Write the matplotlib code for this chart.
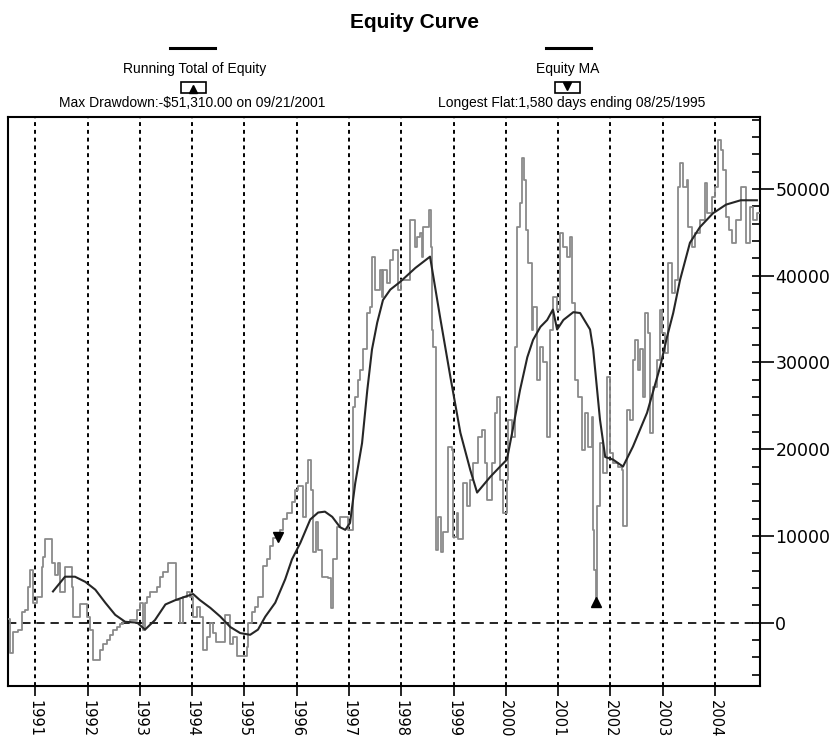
import matplotlib
matplotlib.use("Agg")
import matplotlib.pyplot as plt
from matplotlib.lines import Line2D
from matplotlib.patches import Rectangle
from matplotlib.ticker import MultipleLocator
import numpy as np

# running total of equity (decimal year, dollars)
equity_dates = [
    1990.50, 1990.52, 1990.58, 1990.67, 1990.75, 1990.81, 1990.87, 1990.90, 1990.96, 1991.04,
    1991.13, 1991.15, 1991.19, 1991.33, 1991.38, 1991.44, 1991.48, 1991.57, 1991.71, 1991.73,
    1991.86, 1991.99, 1992.05, 1992.11, 1992.24, 1992.30, 1992.38, 1992.43, 1992.49, 1992.57,
    1992.63, 1992.68, 1992.82, 1992.95, 1993.01, 1993.07, 1993.10, 1993.14, 1993.20, 1993.33,
    1993.39, 1993.45, 1993.54, 1993.64, 1993.70, 1993.77, 1993.83, 1993.91, 1993.96,
    1994.02, 1994.10, 1994.15, 1994.21, 1994.29, 1994.35, 1994.40, 1994.46, 1994.59, 1994.63,
    1994.69, 1994.73, 1994.79, 1994.86, 1994.98, 1995.05, 1995.07, 1995.15, 1995.21, 1995.26,
    1995.36, 1995.44, 1995.49, 1995.55, 1995.68, 1995.74, 1995.82, 1995.91, 1995.97, 1996.03,
    1996.11, 1996.12, 1996.18, 1996.22, 1996.28, 1996.32, 1996.37, 1996.41, 1996.49, 1996.60,
    1996.66, 1996.70, 1996.77, 1996.83, 1996.93, 1996.98, 1997.08, 1997.12, 1997.18, 1997.21,
    1997.27, 1997.35, 1997.41, 1997.44, 1997.50, 1997.60, 1997.63, 1997.65, 1997.73, 1997.79,
    1997.85, 1997.92, 1997.94, 1998.00, 1998.17, 1998.23, 1998.27, 1998.30, 1998.36, 1998.40,
    1998.42, 1998.50, 1998.53, 1998.57, 1998.59, 1998.61, 1998.67, 1998.71, 1998.76, 1998.80,
    1998.90, 1998.97, 1998.99, 1999.07, 1999.09, 1999.18, 1999.26, 1999.32, 1999.37, 1999.47,
    1999.55, 1999.60, 1999.64, 1999.74, 1999.80, 1999.83, 1999.89, 1999.95, 2000.02, 2000.04,
    2000.12, 2000.18, 2000.22, 2000.27, 2000.31, 2000.35, 2000.39, 2000.43, 2000.50, 2000.52,
    2000.60, 2000.66, 2000.71, 2000.79, 2000.85, 2000.90, 2000.98, 2001.04, 2001.10, 2001.17,
    2001.23, 2001.27, 2001.33, 2001.38, 2001.46, 2001.52, 2001.57, 2001.65, 2001.67, 2001.69,
    2001.72, 2001.75, 2001.80, 2001.86, 2001.94, 2001.99, 2002.05, 2002.15, 2002.22, 2002.24,
    2002.32, 2002.38, 2002.43, 2002.47, 2002.53, 2002.57, 2002.63, 2002.66, 2002.72, 2002.76,
    2002.82, 2002.89, 2002.95, 2002.99, 2003.05, 2003.10, 2003.18, 2003.24, 2003.29, 2003.33,
    2003.39, 2003.47, 2003.49, 2003.56, 2003.62, 2003.71, 2003.81, 2003.85, 2003.94, 2004.00,
    2004.05, 2004.11, 2004.15, 2004.21, 2004.26, 2004.32, 2004.40, 2004.45, 2004.49, 2004.55,
    2004.59, 2004.67, 2004.73, 2004.80, 2004.86,
]
equity_values = [
    400, -3500, -1100, -800, 1200, 1500, 4100, 6100, 2300, 3000,
    6400, 7600, 9700, 6900, 5500, 6900, 3500, 6400, 4100, 700,
    2100, 700, -800, -4300, -3100, -2500, -2000, -1400, -800, -500,
    -200, 100, 300, 1500, 2300, -800, 2300, 3000, 3500, 4100,
    5300, 5800, 6900, 6900, 2600, 0, 3000, 3500, 3000,
    700, 1800, 700, -3100, -1600, 0, -1200, -2200, -2200, 900,
    900, -2500, -1600, -3900, -3900, -2800, 0, 1200, 1800, 3000,
    6500, 7300, 8800, 9800, 10700, 11900, 12700, 13900, 15300, 15700,
    15700, 12200, 16100, 18800, 15300, 8100, 11600, 8400, 5300, 5200,
    1700, 7300, 11000, 12200, 12200, 10700, 24900, 26000, 28000, 29100,
    31500, 35700, 36400, 42200, 38400, 40700, 37600, 40700, 39200, 41800,
    43000, 43000, 38400, 39500, 46400, 46400, 43300, 44500, 44900, 42200,
    45600, 45600, 47600, 43300, 33800, 31800, 8400, 12200, 8100, 10400,
    20300, 19900, 9900, 12700, 9600, 16100, 13400, 16500, 18400, 21400,
    22200, 18400, 14200, 18400, 24200, 26000, 16500, 12700, 16500, 23400,
    21400, 31800, 45600, 48400, 53600, 51000, 45300, 41500, 33800, 36400,
    28000, 31800, 30000, 21400, 33800, 37600, 36100, 44900, 43300, 42200,
    44500, 36900, 28000, 26000, 19900, 24200, 20300, 23700, 10700, 6100,
    2300, 13400, 20700, 17300, 28300, 19600, 18400, 18000, 17600, 11100,
    24500, 23400, 30300, 32600, 29100, 31500, 26000, 35700, 33400, 21900,
    27200, 30300, 36100, 33400, 31100, 41500, 38000, 39500, 50200, 53000,
    50200, 51000, 45600, 43300, 44900, 46400, 50700, 47200, 49100, 50200,
    55600, 54500, 52200, 46800, 45300, 43800, 46400, 46400, 50200, 50200,
    43800, 47900, 46400, 47200, 47200,
]

# moving average of equity
ma_dates = [
    1991.34, 1991.57, 1991.76, 1991.96, 1992.15, 1992.34, 1992.53, 1992.72, 1992.95, 1993.10,
    1993.29, 1993.49, 1993.68, 1993.87, 1994.02, 1994.15, 1994.35, 1994.54, 1994.73, 1994.92,
    1995.11, 1995.26, 1995.40, 1995.59, 1995.78, 1995.91, 1996.07, 1996.26, 1996.41, 1996.54,
    1996.68, 1996.83, 1996.93, 1997.02, 1997.12, 1997.25, 1997.35, 1997.44, 1997.54, 1997.65,
    1997.79, 1997.98, 1998.27, 1998.55, 1998.74, 1998.94, 1999.13, 1999.32, 1999.45, 1999.70,
    1999.89, 2000.02, 2000.13, 2000.27, 2000.41, 2000.52, 2000.66, 2000.79, 2000.90, 2000.98,
    2001.10, 2001.29, 2001.42, 2001.61, 2001.67, 2001.80, 2001.90, 2002.05, 2002.24, 2002.43,
    2002.70, 2002.95, 2003.08, 2003.20, 2003.33, 2003.52, 2003.71, 2003.96, 2004.21, 2004.49,
    2004.80,
]
ma_values = [
    3600, 5300, 5300, 4700, 3800, 2300, 900, 100, 0, -800,
    300, 2100, 2600, 3000, 3300, 2600, 1700, 700, -500, -1200,
    -1400, -800, 700, 2300, 5000, 7300, 9200, 11900, 12700, 12800,
    12200, 11000, 10700, 11500, 16100, 20700, 26800, 31500, 34600, 37200,
    38400, 39300, 40900, 42200, 35300, 28300, 21900, 17600, 15000, 16800,
    18000, 18800, 22200, 26800, 30600, 32600, 34100, 34900, 36100, 33800,
    34900, 35800, 35700, 33800, 31500, 23400, 19100, 18800, 18000, 20300,
    24200, 29500, 32900, 35700, 39500, 43800, 45600, 47200, 48200, 48700,
    48700,
]

years = list(range(1991, 2005))
drawdown_date, drawdown_value = 2001.72, 2400
flat_date, flat_value = 1995.65, 9900

fig = plt.figure(figsize=(8.35, 7.42), dpi=100)
ax = fig.add_axes([0.0096, 0.0755, 0.9006, 0.7668])

ax.plot(equity_dates, equity_values, drawstyle="steps-post", color="#8a8a8a", lw=1.3, zorder=3)
ax.plot(ma_dates, ma_values, color="#262626", lw=1.5, zorder=4)
ax.plot([drawdown_date], [drawdown_value], marker="^", color="black", ms=7, zorder=5)
ax.plot([flat_date], [flat_value], marker="v", color="black", ms=7, zorder=5)

for yr in years:
    ax.axvline(yr, color="black", lw=1.4, ls=(0, (2, 2)), zorder=1)
ax.axhline(0, color="black", lw=1.2, ls=(0, (5, 3.5)), zorder=1)

ax.set_xlim(1990.48, 2004.86)
ax.set_ylim(-7300, 58300)

ax.set_xticks(years)
ax.set_xticklabels([str(y) for y in years], rotation=270, fontsize=10.5)
ax.tick_params(axis="x", direction="out", length=7, width=1.2, pad=3)

ax.yaxis.tick_right()
ax.yaxis.set_major_locator(MultipleLocator(10000))
ax.yaxis.set_minor_locator(MultipleLocator(2000))
ax.yaxis.remove_overlapping_locs = False
ax.tick_params(axis="y", which="major", direction="out", length=10, width=1.2, labelsize=12.5, pad=1)
ax.tick_params(axis="y", which="minor", direction="in", length=6, width=1.2)

for s in ax.spines.values():
    s.set_linewidth(1.5)

# header with title and legend
fig.text(0.497, 0.970, "Equity Curve", ha="center", va="center", fontsize=15,
         fontweight="bold", family=["Liberation Sans Narrow", "Liberation Sans", "DejaVu Sans"])

hdr = dict(ha="center", va="center", fontsize=10, family=["Liberation Sans", "DejaVu Sans"])
fig.add_artist(Line2D([0.2036, 0.2575], [0.9353, 0.9353], color="black", lw=2.2))
fig.text(0.2335, 0.907, "Running Total of Equity", **hdr)
fig.add_artist(Rectangle((0.2168, 0.8747), 0.0299, 0.0148, fill=False, lw=1.2, ec="black"))
fig.add_artist(Line2D([0.2317], [0.8805], marker="^", color="black", ms=6))
fig.text(0.230, 0.861, "Max Drawdown:-$51,310.00 on 09/21/2001", **hdr)

fig.add_artist(Line2D([0.6539, 0.7078], [0.9353, 0.9353], color="black", lw=2.2))
fig.text(0.680, 0.907, "Equity MA", **hdr)
fig.add_artist(Rectangle((0.6647, 0.8747), 0.0299, 0.0148, fill=False, lw=1.2, ec="black"))
fig.add_artist(Line2D([0.6796], [0.8835], marker="v", color="black", ms=6))
fig.text(0.685, 0.861, "Longest Flat:1,580 days ending 08/25/1995", **hdr)

fig.savefig("out.png", dpi=100)
